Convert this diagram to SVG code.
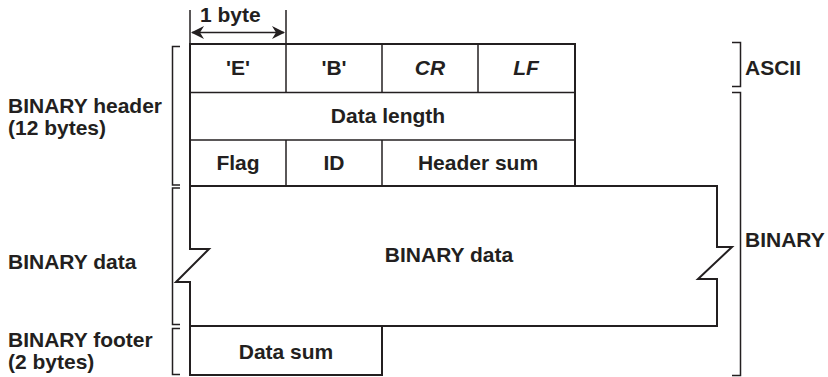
<svg xmlns="http://www.w3.org/2000/svg" width="828" height="377" viewBox="0 0 828 377">
<style>
text{font-family:"Liberation Sans",Arial,sans-serif;font-weight:bold;font-size:21px;fill:#231f20}
.c{text-anchor:middle}
.i{font-style:italic}
.o{fill:none;stroke:#231f20;stroke-width:2}
.d{fill:none;stroke:#231f20;stroke-width:1.5}
.b{fill:none;stroke:#231f20;stroke-width:1.5}
</style>
<rect width="828" height="377" fill="#fff"/>
<g id="byte-dimension">
<line class="d" x1="190" y1="10" x2="190" y2="44"/>
<line class="d" x1="286" y1="10" x2="286" y2="44"/>
<line class="d" x1="192" y1="32.5" x2="284" y2="32.5"/>
<path d="M191,32.5 L204,26 L200,32.5 L204,39 Z" fill="#231f20"/>
<path d="M285,32.5 L272,26 L276,32.5 L272,39 Z" fill="#231f20"/>
<text x="200" y="22">1 byte</text>
</g>
<g id="header">
<path class="o" d="M190,186 L190,44 L575,44 L575,186"/>
<line class="d" x1="190" y1="92.5" x2="575" y2="92.5"/>
<line class="d" x1="190" y1="140" x2="575" y2="140"/>
<line class="d" x1="286" y1="44" x2="286" y2="92.5"/>
<line class="d" x1="382" y1="44" x2="382" y2="92.5"/>
<line class="d" x1="478" y1="44" x2="478" y2="92.5"/>
<line class="d" x1="286" y1="140" x2="286" y2="186"/>
<line class="d" x1="382" y1="140" x2="382" y2="186"/>
<text class="c" x="238" y="75">'E'</text>
<text class="c" x="334" y="75">'B'</text>
<text class="c i" x="430" y="75">CR</text>
<text class="c i" x="526" y="75">LF</text>
<text class="c" x="388" y="123">Data length</text>
<text class="c" x="238" y="170">Flag</text>
<text class="c" x="334" y="170">ID</text>
<text class="c" x="478" y="170">Header sum</text>
</g>
<g id="data">
<path class="o" d="M190,186 L717,186 L717,247 L732,247 L698,279 L717,279 L717,326 L190,326 L190,282 L176,282 L209,249 L190,249 Z"/>
<text class="c" x="449" y="262">BINARY data</text>
</g>
<g id="footer">
<path class="o" d="M190,326 L190,375 L382,375 L382,326"/>
<text class="c" x="286" y="359">Data sum</text>
</g>
<g id="brackets">
<path class="b" d="M180,46.5 L172.5,46.5 L172.5,185 L180,185"/>
<path class="b" d="M180,188 L172.5,188 L172.5,324.5 L180,324.5"/>
<path class="b" d="M180,328.5 L172.5,328.5 L172.5,374.5 L180,374.5"/>
<path class="b" d="M732,42.5 L740.5,42.5 L740.5,86.5 L732,86.5"/>
<path class="b" d="M732,92.5 L740.5,92.5 L740.5,375.5 L732,375.5"/>
</g>
<g id="labels">
<text x="8" y="113">BINARY header</text>
<text x="8" y="135">(12 bytes)</text>
<text x="8" y="269">BINARY data</text>
<text x="8" y="347">BINARY footer</text>
<text x="8" y="369">(2 bytes)</text>
<text x="745" y="75">ASCII</text>
<text x="745" y="247">BINARY</text>
</g>
</svg>
